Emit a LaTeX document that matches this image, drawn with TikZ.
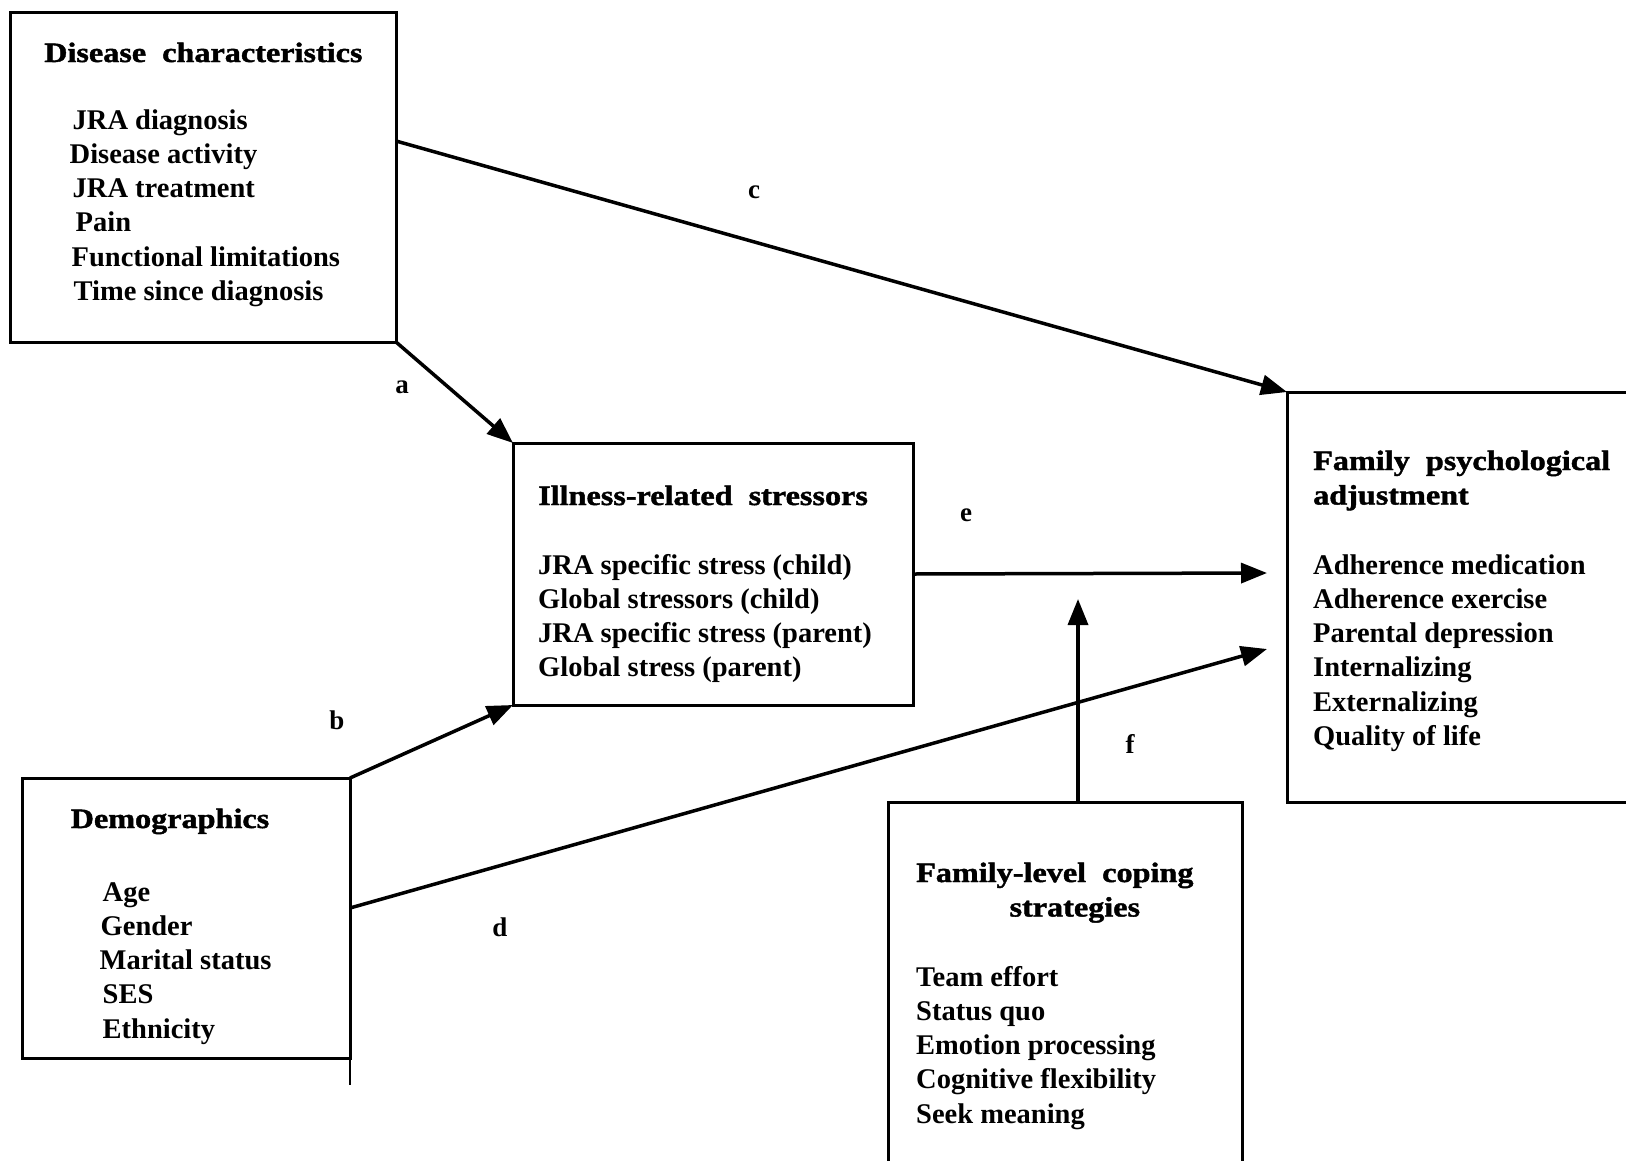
\documentclass[tikz,border=0pt]{standalone}
\usepackage{fontspec}
\setmainfont{Liberation Serif}
\newfontfamily\headfam[FakeStretch=1.15,FakeBold=1.5]{Liberation Serif Bold}
\usetikzlibrary{arrows.meta,calc}
\newcommand{\itemfont}{\fontsize{28.5}{34.3}\selectfont\bfseries}
\newcommand{\headfont}{\headfam\fontsize{28}{34.5}\selectfont}
\begin{document}
\begin{tikzpicture}[x=1pt,y=-1pt,
  box/.style={draw, line width=3pt, rectangle, inner sep=0pt, outer sep=0pt, anchor=north west},
  items/.style={anchor=base west, inner sep=0pt, font=\itemfont},
  head/.style={anchor=base west, inner sep=0pt, font=\headfont},
  lbl/.style={inner sep=0pt, font=\fontsize{27}{30}\selectfont\bfseries},
  conn/.style={line width=3.5pt, -{Triangle[length=26pt,width=20pt]}}]
\useasboundingbox (0,0) rectangle (1626,1160);
\clip (0,0) rectangle (1626,1160);
% boxes
\node[box, minimum width=386pt, minimum height=330pt] (dis) at (10,12) {};
\node[box, minimum width=400pt, minimum height=262pt] (ill) at (513,443) {};
\node[box, minimum width=360pt, minimum height=410pt] (fam) at (1287,392) {};
\node[box, minimum width=328pt, minimum height=280pt] (dem) at (22,778) {};
\node[box, minimum width=354pt, minimum height=400pt] (cop) at (888,802) {};
\draw[line width=2pt] (dem.south east) -- ++(0,27);
% texts
\node[head] (dish) at (44,62) {Disease\ \ characteristics};
\node[items] (disi) at (69.5,129) {\begin{tabular}[t]{@{}l@{}}
\hspace*{3pt}JRA diagnosis\\
Disease activity\\
\hspace*{3pt}JRA treatment\\
\hspace*{6pt}Pain\\
\hspace*{2pt}Functional limitations\\
\hspace*{4pt}Time since diagnosis
\end{tabular}};
\node[head] (illh) at (538,505) {Illness-related\ \ stressors};
\node[items] (illi) at (538,574) {\begin{tabular}[t]{@{}l@{}}
JRA specific stress (child)\\
Global stressors (child)\\
JRA specific stress (parent)\\
Global stress (parent)
\end{tabular}};
\node[head] (famh) at (1313,470) {\begin{tabular}[t]{@{}l@{}}
Family\ \ psychological\\
adjustment
\end{tabular}};
\node[items] (fami) at (1313,574) {\begin{tabular}[t]{@{}l@{}}
Adherence medication\\
Adherence exercise\\
Parental depression\\
Internalizing\\
Externalizing\\
Quality of life
\end{tabular}};
\node[head] (demh) at (70.5,828) {Demographics};
\node[items] (demi) at (99.5,901) {\begin{tabular}[t]{@{}l@{}}
\hspace*{3pt}Age\\
\hspace*{1pt}Gender\\
Marital status\\
\hspace*{3pt}SES\\
\hspace*{3pt}Ethnicity
\end{tabular}};
\node[head] (coph) at (916,882) {\begin{tabular}[t]{@{}c@{}}
Family-level\ \ coping\\
\hspace*{40pt}strategies
\end{tabular}};
\node[items] (copi) at (916,986) {\begin{tabular}[t]{@{}l@{}}
Team effort\\
Status quo\\
Emotion processing\\
Cognitive flexibility\\
Seek meaning
\end{tabular}};
% connectors
\coordinate (eend) at (1267,573);
\coordinate (dend) at (1267,649);
\coordinate (fend) at (1078,599);
\coordinate (cstart) at ($(dis.north east)+(0,129)$);
\coordinate (dstart) at ($(dem.north east)+(0,130)$);
\coordinate (fstart) at ($(cop.north west)+(190,0)$);
\draw[conn] (cstart) -- (fam.north west);
\draw[conn] (dis.south east) -- (ill.north west);
\draw[conn] (dem.north east) -- (ill.south west);
\draw[conn] (dstart) -- (dend);
\draw[conn] (ill.east) -- (eend);
\draw[conn] (fstart) -- (fend);
% labels
\node[lbl] (la) at (402,387) {a};
\node[lbl] (lb) at (337,720) {b};
\node[lbl] (lc) at (754,192) {c};
\node[lbl] (ld) at (500,927) {d};
\node[lbl] (le) at (966,515) {e};
\node[lbl] (lf) at (1130,744) {f};
\end{tikzpicture}
\end{document}
